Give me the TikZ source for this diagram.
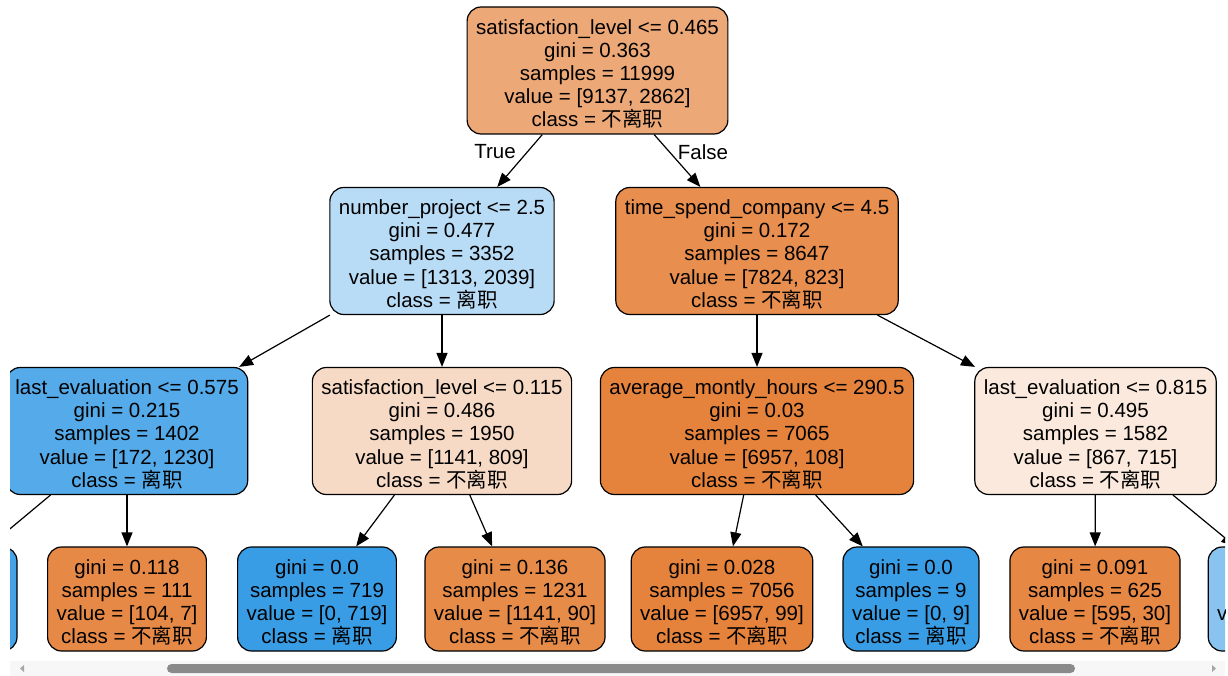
\documentclass[tikz,border=0pt]{standalone}
\usepackage{fontspec}
\setmainfont{Liberation Sans}
\newfontfamily\cjk{Noto Sans CJK SC}
\usetikzlibrary{arrows.meta}
\newcommand{\clsstay}{{\cjk 不离职}}
\newcommand{\clsquit}{{\cjk 离职}}
\newcommand{\toppad}{\rule{0pt}{21.5pt}}
% node fills, sklearn style
\definecolor{rootfill}{RGB}{237,168,119}
\definecolor{npfill}{RGB}{185,220,246}
\definecolor{tscfill}{RGB}{232,142,78}
\definecolor{leafill}{RGB}{85,171,233}
\definecolor{slfill}{RGB}{247,218,197}
\definecolor{amhfill}{RGB}{229,131,60}
\definecolor{lebfill}{RGB}{250,233,220}
\definecolor{orangeA}{RGB}{231,137,70}
\definecolor{orangeB}{RGB}{231,139,73}
\definecolor{orangeC}{RGB}{230,135,67}
\definecolor{blueA}{RGB}{68,163,230}
\definecolor{blueB}{RGB}{57,157,229}
\definecolor{blueC}{RGB}{136,196,239}
\tikzset{x=1pt, y=-1pt,
 tree/.style={draw=black, line width=1.2pt, rounded corners=14pt, align=center,
   inner xsep=9pt, inner ysep=2pt, font=\fontsize{20.5}{23.2}\selectfont},
 split/.style={tree, minimum height=127pt},
 leaf/.style={tree, minimum height=104pt},
 edge/.style={->, line width=1.2pt},
 lbl/.style={font=\fontsize{20.5}{23.2}\selectfont},
 >={Triangle[length=14pt,width=11pt]}}

\begin{document}
\begin{tikzpicture}
\useasboundingbox (0,0) rectangle (1228,676);
\begin{scope}
\clip (10,0) rectangle (1225,660); % visible part of the tree
\node[split, fill=rootfill] (root) at (597.5,70.5) {\toppad satisfaction\_level <= 0.465\\gini = 0.363\\samples = 11999\\value = [9137, 2862]\\class = \clsstay};
\node[split, fill=npfill] (np) at (442,251) {\toppad number\_project <= 2.5\\gini = 0.477\\samples = 3352\\value = [1313, 2039]\\class = \clsquit};
\node[split, fill=tscfill] (tsc) at (757,251) {\toppad time\_spend\_company <= 4.5\\gini = 0.172\\samples = 8647\\value = [7824, 823]\\class = \clsstay};
\node[split, fill=leafill] (lea) at (127,431) {\toppad last\_evaluation <= 0.575\\gini = 0.215\\samples = 1402\\value = [172, 1230]\\class = \clsquit};
\node[split, fill=slfill] (sl) at (442,431) {\toppad satisfaction\_level <= 0.115\\gini = 0.486\\samples = 1950\\value = [1141, 809]\\class = \clsstay};
\node[split, fill=amhfill] (amh) at (757,431) {\toppad average\_montly\_hours <= 290.5\\gini = 0.03\\samples = 7065\\value = [6957, 108]\\class = \clsstay};
\node[split, fill=lebfill] (leb) at (1095.5,431) {\toppad last\_evaluation <= 0.815\\gini = 0.495\\samples = 1582\\value = [867, 715]\\class = \clsstay};
\node[leaf, fill=blueA, minimum width=182pt] (l1) at (-74,599) {};
\node[leaf, fill=orangeA] (l2) at (127,599) {\toppad gini = 0.118\\samples = 111\\value = [104, 7]\\class = \clsstay};
\node[leaf, fill=blueB] (l3) at (317,599) {\toppad gini = 0.0\\samples = 719\\value = [0, 719]\\class = \clsquit};
\node[leaf, fill=orangeB] (l4) at (515,599) {\toppad gini = 0.136\\samples = 1231\\value = [1141, 90]\\class = \clsstay};
\node[leaf, fill=amhfill] (l5) at (722,599) {\toppad gini = 0.028\\samples = 7056\\value = [6957, 99]\\class = \clsstay};
\node[leaf, fill=blueB] (l6) at (911,599) {\toppad gini = 0.0\\samples = 9\\value = [0, 9]\\class = \clsquit};
\node[leaf, fill=orangeC] (l7) at (1095,599) {\toppad gini = 0.091\\samples = 625\\value = [595, 30]\\class = \clsstay};
\node[leaf, fill=blueC] (l8) at (1299,599) {\toppad gini = 0.407\\samples = 957\\value = [272, 685]\\class = \clsquit};
\draw[edge] (root) -- (np);
\draw[edge] (root) -- (tsc);
\node[lbl] (true) at (495,152) {True};
\node[lbl] (false) at (703,152) {False};
\draw[edge] (np) -- (lea);
\draw[edge] (np) -- (sl);
\draw[edge] (tsc) -- (amh);
\draw[edge] (tsc) -- (leb);
\draw[edge] (lea) -- (l1);
\draw[edge] (lea) -- (l2);
\draw[edge] (sl) -- (l3);
\draw[edge] (sl) -- (l4);
\draw[edge] (amh) -- (l5);
\draw[edge] (amh) -- (l6);
\draw[edge] (leb) -- (l7);
\draw[edge] (leb) -- (l8);
\end{scope}
% scroll bar
\fill[black!3] (10,661) rectangle (1225,676);
\fill[black!46, rounded corners=4.5pt] (167,664) rectangle (1075,673);
\fill[black!35] (20,668.5) -- (24,665) -- (24,672) -- cycle;
\fill[black!35] (1216,668.5) -- (1212,665) -- (1212,672) -- cycle;
\end{tikzpicture}
\end{document}
